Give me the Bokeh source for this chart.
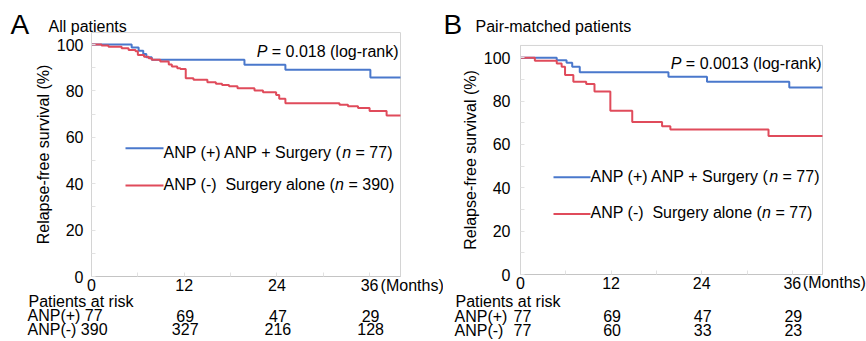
from bokeh.plotting import figure
from bokeh.models import Label, FixedTicker, Range1d, LinearAxis
from bokeh.layouts import row
from bokeh.embed import file_html
from bokeh.resources import INLINE

FONT = "Liberation Sans"
BLUE = "#4a78cc"
RED = "#e04b5b"
FRAME = "#d4d4d4"
TICKC = "#e2e2e2"

# ---------------- data ----------------
month_ticks = [0, 12, 24, 36]
month_minor = [6, 18, 30]
surv_ticks = [0, 20, 40, 60, 80, 100]
surv_minor = [10, 30, 50, 70, 90]

# Panel A: all patients (months, relapse-free survival %)
a_plus_t = [0, 5.2, 6.1, 6.7, 7.1, 7.8, 19.8, 25.1, 36.1, 40]
a_plus_s = [100, 98.8, 97.4, 95.9, 94.5, 93.5, 91.3, 89.2, 85.8, 85.8]
a_minus_t = [0, 1.3, 2.2, 3.9, 4.8, 5.7, 6.0, 6.8, 7.4, 7.8, 8.9, 10.0, 10.4, 11.1, 11.5,
             12.2, 13.2, 15.0, 16.1, 16.9, 17.8, 18.9, 21.1, 22.2, 23.9, 24.3, 25.1,
             32.1, 33.2, 34.5, 36.0, 38.2, 40]
a_minus_s = [100, 99.6, 99.1, 98.4, 97.7, 97.1, 95.5, 94.8, 94.1, 93.5, 92.7, 91.4, 90.6, 89.8, 89.5,
             85.5, 84.8, 83.8, 83.1, 82.6, 82.0, 81.2, 80.2, 79.4, 78.3, 76.6, 74.7,
             74.1, 73.4, 72.7, 71.4, 69.4, 69.4]
risk_a_plus = [77, 69, 47, 29]
risk_a_minus = [390, 327, 216, 128]

# Panel B: pair-matched patients
b_plus_t = [0, 4.8, 6.1, 6.85, 7.85, 19.6, 24.7, 35.6, 40]
b_plus_s = [100, 98.9, 97.7, 95.9, 93.3, 91.3, 89.0, 86.3, 86.3]
b_minus_t = [0, 1.9, 4.8, 5.45, 5.9, 7.0, 8.7, 9.8, 11.9, 14.8, 18.75, 19.85, 32.85, 40]
b_minus_s = [100, 98.6, 97.4, 95.9, 92.1, 89.0, 87.9, 84.4, 75.6, 70.4, 68.4, 66.9, 63.9, 63.9]
risk_b_plus = [77, 69, 47, 29]
risk_b_minus = [77, 60, 33, 23]

# Arial / Liberation Sans advance widths (per 1000 em)
ADV = {" ": 278, "\u00a0": 278, "(": 333, ")": 333, "=": 584, "+": 584, "-": 333, ".": 278,
       "A": 667, "N": 722, "P": 667, "S": 667, "M": 833,
       "a": 556, "e": 556, "g": 556, "k": 500, "l": 222, "n": 556, "o": 556, "r": 333,
       "u": 556, "y": 500, "s": 500, "t": 278, "h": 556, "i": 222}


def tw(s, size):
    return sum(ADV.get(c, 556) for c in s) * size / 1000.0


NB = "\u00a0"
H = 341


def make_panel(cfg):
    cl, W = cfg["canvas_left"], cfg["width"]
    fl, fr, ft, fb = cfg["box"]          # plot box in page px
    xmax, ytop = cfg["xmax"], cfg["ytop"]
    ppm = (fr - fl) / xmax               # px per month
    ppu = (fb - cfg["y100"]) / 100.0     # px per survival %

    def dx(px):
        return (px - fl) / ppm

    def dy(py):
        return (fb - py) / ppu

    p = figure(width=W, height=H,
               x_range=Range1d(dx(cl), dx(cl + W)), y_range=Range1d(dy(H), dy(0)),
               x_axis_type=None, y_axis_type=None,
               output_backend="svg", toolbar_location=None, title=None,
               min_border_left=0, min_border_right=0, min_border_top=0, min_border_bottom=0)
    p.outline_line_color = None
    p.background_fill_color = "white"
    p.border_fill_color = "white"

    # plot box
    p.quad(left=0, right=xmax, bottom=0, top=ytop, fill_color=None,
           line_color=FRAME, line_width=1)

    xax = LinearAxis(fixed_location=0, bounds=(0, xmax),
                     ticker=FixedTicker(ticks=month_ticks, minor_ticks=month_minor))
    yax = LinearAxis(fixed_location=0, bounds=(0, ytop),
                     ticker=FixedTicker(ticks=surv_ticks, minor_ticks=surv_minor))
    p.add_layout(xax, "below")
    p.add_layout(yax, "left")
    for ax in (xax, yax):
        ax.axis_line_color = FRAME
        ax.major_tick_in = 4
        ax.major_tick_out = 0
        ax.minor_tick_in = 4
        ax.minor_tick_out = 0
        ax.major_tick_line_color = TICKC
        ax.minor_tick_line_color = TICKC
        ax.major_label_text_font = FONT
        ax.major_label_text_font_size = "16px"
        ax.major_label_text_color = "black"
    xax.axis_line_color = "#c4c4c4"
    xax.major_label_standoff = 2
    yax.major_label_standoff = cfg["ylab_standoff"]
    yax.axis_label = "Relapse-free survival (%)"
    yax.axis_label_text_font = FONT
    yax.axis_label_text_font_size = "16px"
    yax.axis_label_text_font_style = "normal"
    yax.axis_label_text_color = "black"
    yax.axis_label_standoff = 2

    # curves
    p.step(cfg["plus_t"], cfg["plus_s"], mode="after", line_color=BLUE, line_width=2)
    p.step(cfg["minus_t"], cfg["minus_s"], mode="after", line_color=RED, line_width=2)

    # labels: y given as the page-pixel baseline; text is anchored at its middle
    def lab(x, base_py, text, size=16, align="left", style="normal", xoff=0.0):
        y = dy(base_py - 0.3465 * size)
        p.add_layout(Label(x=x, y=y, x_offset=xoff, text=text, text_font=FONT,
                           text_font_size=f"{size}px", text_align=align,
                           text_baseline="middle", text_font_style=style,
                           text_color="black"))

    lx, ly = cfg["letter_pos"]
    lab(dx(lx), ly, cfg["letter"], size=28)
    tx, ty = cfg["title_pos"]
    lab(dx(tx), ty, cfg["title"])

    # p-value (italic P)
    rest = NB + "= " + cfg["pval"] + " (log-rank)"
    prx, pby = cfg["pval_pos"]
    lab(dx(prx), pby, rest, align="right")
    lab(dx(prx), pby, "P", align="right", style="italic", xoff=-tw(rest, 16))

    # legend
    lx0, lx1 = cfg["leg_x"]
    for (ly_line, ly_base, color, pre, n) in cfg["legend"]:
        p.segment(x0=dx(lx0), y0=dy(ly_line), x1=dx(lx1), y1=dy(ly_line),
                  line_color=color, line_width=2)
        lab(dx(lx1), ly_base, pre)
        lab(dx(lx1), ly_base, "n", style="italic", xoff=tw(pre, 16))
        lab(dx(lx1), ly_base, NB + "= " + str(n) + ")", xoff=tw(pre, 16) + tw("n", 16))

    # (Months)
    mx_off, m_base = cfg["months"]
    lab(month_ticks[-1], m_base, "(Months)", xoff=mx_off)

    # risk table
    rx, rbases = cfg["risk_x"], cfg["risk_base"]
    lab(dx(rx + 1), rbases[0], "Patients at risk")
    rows = [("ANP(+)", cfg["risk_plus"]), ("ANP(-)", cfg["risk_minus"])]
    for (name, vals), base in zip(rows, rbases[1:]):
        if cfg["inline_first"]:
            lab(dx(rx), base, name + " " + str(vals[0]))
            start = 1
        else:
            lab(dx(rx), base, name)
            start = 0
        for m, v in list(zip(month_ticks, vals))[start:]:
            off = cfg["num_off"] if m == 0 else 1
            lab(m, base, str(v), align="center", xoff=off)
    return p


cfgA = dict(canvas_left=0, width=443, box=(91, 400, 32, 276), y100=44.1, xmax=40, ytop=105.2,
            ylab_standoff=8,
            plus_t=a_plus_t, plus_s=a_plus_s, minus_t=a_minus_t, minus_s=a_minus_s,
            letter="A", letter_pos=(10, 33.3), title="All patients", title_pos=(48, 32),
            pval="0.018", pval_pos=(398, 57),
            leg_x=(125, 163),
            legend=[(147.7, 158, BLUE, "ANP (+) ANP + Surgery (", 77),
                    (185, 189.5, RED, "ANP (-)" + NB + " Surgery alone (", 390)],
            months=(11, 290.5),
            risk_x=27, risk_base=[307, 321, 334.5], inline_first=True, num_off=0,
            risk_plus=risk_a_plus, risk_minus=risk_a_minus)

cfgB = dict(canvas_left=443, width=423, box=(520, 822, 45, 274), y100=57.3, xmax=40, ytop=105.7,
            ylab_standoff=10,
            plus_t=b_plus_t, plus_s=b_plus_s, minus_t=b_minus_t, minus_s=b_minus_s,
            letter="B", letter_pos=(443, 33.3), title="Pair-matched patients", title_pos=(475, 31.5),
            pval="0.0013", pval_pos=(821, 68.5),
            leg_x=(553, 590),
            legend=[(176.7, 182, BLUE, "ANP (+) ANP + Surgery (", 77),
                    (213.5, 218, RED, "ANP (-)" + NB + " Surgery alone (", 77)],
            months=(10.5, 288),
            risk_x=454, risk_base=[306.7, 321.5, 335.5], inline_first=False, num_off=2,
            risk_plus=risk_b_plus, risk_minus=risk_b_minus)

pA = make_panel(cfgA)
pB = make_panel(cfgB)
layout = row(pA, pB)

with open("out.html", "w") as f:
    f.write(file_html(layout, INLINE))
